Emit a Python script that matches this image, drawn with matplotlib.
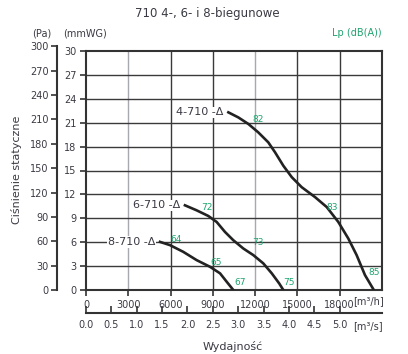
import matplotlib
matplotlib.use("Agg")
import matplotlib.pyplot as plt

# flow in m3/h, static pressure in mmWG
q_4 = [10100, 10810, 11520, 12220, 12930, 13410, 14000, 14600, 15300, 16250, 17080, 17900, 18610, 19200, 19790, 20420]
p_4 = [22.3, 21.66, 20.84, 19.79, 18.54, 17.29, 15.6, 14.16, 12.91, 11.66, 10.41, 8.54, 6.46, 4.38, 1.88, 0.0]
q_6 = [7020, 7850, 8680, 9270, 9860, 10450, 11160, 11870, 12580, 13180, 13700, 14000]
p_6 = [10.63, 10.0, 9.29, 8.54, 7.29, 6.25, 5.21, 4.38, 3.34, 2.09, 0.84, 0.0]
q_8 = [5250, 5960, 6900, 7850, 8800, 9510, 9980, 10450]
p_8 = [6.04, 5.63, 4.79, 3.75, 2.91, 2.09, 1.04, 0.0]

curve_names = ["4-710 -Δ", "6-710 -Δ", "8-710 -Δ"]

# noise levels Lp dB(A) with their positions
lp_text = ["82", "72", "83", "64", "73", "65", "67", "75", "85"]
lp_q = [12200, 8580, 17450, 6380, 12200, 9220, 10920, 14400, 20430]
lp_p = [21.4, 10.4, 10.4, 6.4, 6.0, 3.5, 0.9, 1.0, 2.25]

x_ticks = [0, 3000, 6000, 9000, 12000, 15000, 18000]
y_ticks = [0, 3, 6, 9, 12, 15, 18, 21, 24, 27, 30]
pa_ticks = [0, 30, 60, 90, 120, 150, 180, 210, 240, 270, 300]
ms_ticks = [0.0, 0.5, 1.0, 1.5, 2.0, 2.5, 3.0, 3.5, 4.0, 4.5, 5.0]

txt = "#3a3a44"
green = "#1fa36f"
W, H = 408, 354

plt.rcParams["font.family"] = "DejaVu Sans"
plt.rcParams["font.size"] = 7

fig = plt.figure(figsize=(W / 100, H / 100), dpi=100)

def box(x0, y0, x1, y1):
    return [x0 / W, 1 - y1 / H, (x1 - x0) / W, (y1 - y0) / H]

ax = fig.add_axes(box(86, 51, 382, 290))
ax.set_xlim(0, 21000)
ax.set_ylim(0, 30)
ax.set_xticks(x_ticks)
ax.set_yticks(y_ticks)
ax.set_xticklabels([str(v) for v in x_ticks], color=txt)
ax.set_yticklabels([str(v) for v in y_ticks], color=txt)
ax.tick_params(direction="out", length=4, width=1.2, color="#333", pad=3)
for s in ax.spines.values():
    s.set_color("#333")
    s.set_linewidth(1.5)

for v in x_ticks[1:] + [21000]:
    c = "#a8a8b0" if v in (3000, 12000) else "#3a3a3a"
    ax.axvline(v, color=c, lw=1, zorder=1)
for v in y_ticks[1:-1]:
    ax.axhline(v, color="#3a3a3a", lw=1, zorder=1)

for q, p, name in zip([q_4, q_6, q_8], [p_4, p_6, p_8], curve_names):
    ax.plot(q, p, color="#222", lw=1.9, zorder=3, solid_joinstyle="round")
    ax.text(q[0] - 350, p[0], name, ha="right", va="center", color=txt,
            fontsize=8, zorder=4,
            bbox=dict(facecolor="white", edgecolor="none", pad=0.5))

for t, q, p in zip(lp_text, lp_q, lp_p):
    ax.text(q, p, t, ha="center", va="center", color=green, fontsize=6.5, zorder=4)

# Pa axis (1 mmWG = 9.81 Pa)
ax_pa = fig.add_axes(box(57, 290 - 239 * 300 / 294.3, 58, 290))
ax_pa.set_ylim(0, 300)
ax_pa.set_yticks(pa_ticks)
ax_pa.set_yticklabels([str(v) for v in pa_ticks], color=txt)
ax_pa.set_xticks([])
for k in ["top", "right", "bottom"]:
    ax_pa.spines[k].set_visible(False)
ax_pa.spines["left"].set_color("#333")
ax_pa.spines["left"].set_linewidth(1.5)
ax_pa.tick_params(axis="y", direction="out", length=4, width=1.2, color="#333", pad=2)
ax_pa.patch.set_visible(False)

# m3/s axis
ax_s = fig.add_axes(box(86, 300, 382, 313))
ax_s.set_xlim(0, 21000 / 3600)
ax_s.set_xticks(ms_ticks)
ax_s.set_xticklabels([f"{v:.1f}" for v in ms_ticks], color=txt)
ax_s.set_yticks([])
for k in ["top", "right", "left"]:
    ax_s.spines[k].set_visible(False)
ax_s.spines["bottom"].set_color("#333")
ax_s.spines["bottom"].set_linewidth(1.5)
ax_s.tick_params(axis="x", direction="in", length=5, width=1.2, color="#333", pad=5)
ax_s.patch.set_visible(False)

fig.text(207 / W, 1 - 14 / H, "710 4-, 6- i 8-biegunowe", ha="center", va="center",
         color=txt, fontsize=8.5)
fig.text(42 / W, 1 - 33 / H, "(Pa)", ha="center", va="center", color=txt, fontsize=7)
fig.text(85 / W, 1 - 33 / H, "(mmWG)", ha="center", va="center", color=txt, fontsize=7)
fig.text(382 / W, 1 - 33 / H, "Lp (dB(A))", ha="right", va="center", color=green, fontsize=7)
fig.text(17 / W, 1 - 170 / H, "Ciśnienie statyczne", ha="center", va="center",
         rotation=90, color=txt, fontsize=8)
fig.text(233 / W, 1 - 346 / H, "Wydajność", ha="center", va="center", color=txt, fontsize=8)
fig.text(368 / W, 1 - 301 / H, "[m³/h]", ha="center", va="center", color=txt, fontsize=7)
fig.text(368 / W, 1 - 326 / H, "[m³/s]", ha="center", va="center", color=txt, fontsize=7)

fig.savefig("out.png", dpi=100)
